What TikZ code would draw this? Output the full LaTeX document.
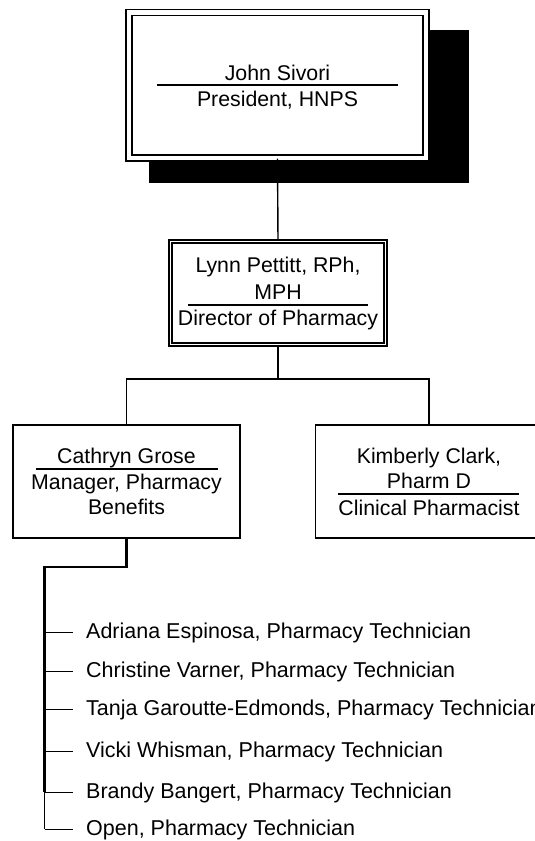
\documentclass[tikz,border=0pt]{standalone}
\usepackage{fontspec}
\setmainfont{Liberation Sans}
\begin{document}
\begin{tikzpicture}[x=1pt,y=-1pt,
  box/.style={draw,fill=white,line width=1.3pt,inner sep=0pt},
  dbox/.style={draw,fill=white,double,line width=1.4pt,inner sep=0pt},
  txt/.style={font=\fontsize{21.3}{25}\selectfont,inner sep=0pt,anchor=base},
  tech/.style={font=\fontsize{21.5}{25}\selectfont,inner ysep=0pt,inner xsep=13pt,anchor=base west},
  rule/.style={line width=1.2pt},
  link/.style={line width=1.4pt}]
  \useasboundingbox (0,0) rectangle (535,841);

  % president, with its shadow
  \fill (149,30) rectangle (469,183);
  \node[dbox,double distance=4.5pt,minimum width=297pt,minimum height=145.5pt] (ceo) at (277.5,85.25) {};
  \node[txt] (ceoname) at (277.5,80) {John Sivori};
  \node[txt] (ceorole) at (277.5,106) {President, HNPS};
  \draw[rule] (157,85) -- (398,85);

  % director
  \node[dbox,double distance=1.6pt,minimum width=215pt,minimum height=103pt] (dir) at (278,292.9) {};
  \node[txt] (dirname1) at (278,272) {Lynn Pettitt, RPh,};
  \node[txt] (dirname2) at (278,299) {MPH};
  \node[txt] (dirrole) at (278,325) {Director of Pharmacy};
  \draw[rule] (188,305) -- (368,305);

  % managers
  \node[box,minimum width=227pt,minimum height=113pt] (benefits) at (126.5,481.5) {};
  \node[txt] (benname) at (126.5,463) {Cathryn Grose};
  \node[txt] (benrole1) at (126.5,489) {Manager, Pharmacy};
  \node[txt] (benrole2) at (126.5,514) {Benefits};
  \draw[rule] (36,469) -- (218,469);

  \node[box,minimum width=227pt,minimum height=113pt] (clinical) at (429,481.5) {};
  \node[txt] (clinname1) at (429,463) {Kimberly Clark,};
  \node[txt] (clinname2) at (429,488.5) {Pharm D};
  \node[txt] (clinrole) at (429,515) {Clinical Pharmacist};
  \draw[rule] (338,494) -- (519,494);

  % links
  \draw[link] (ceo.south) -- (dir.north);
  \draw[link] (dir.south) -- ++(0,34) coordinate (bus) -| (benefits.north);
  \draw[link] (bus) -| (clinical.north);

  % technicians
  \node[tech] (tech1) at (73,638) {Adriana Espinosa, Pharmacy Technician};
  \node[tech] (tech2) at (73,677) {Christine Varner, Pharmacy Technician};
  \node[tech] (tech3) at (73,715) {Tanja Garoutte-Edmonds, Pharmacy Technician};
  \node[tech] (tech4) at (73,757) {Vicki Whisman, Pharmacy Technician};
  \node[tech] (tech5) at (73,798) {Brandy Bangert, Pharmacy Technician};
  \node[tech] (tech6) at (73,835) {Open, Pharmacy Technician};

  \coordinate (spine) at (44.5,567);
  \draw[link,line width=2.2pt] (benefits.south) |- (spine) -- (spine |- tech5.west);
  \foreach \i in {1,...,6}
    \draw[link,line width=1.2pt] (spine |- tech\i.west) -- (tech\i.west);
  \draw[link,line width=1.2pt] (tech5.west -| spine) -- (spine |- tech6.west);
\end{tikzpicture}
\end{document}
